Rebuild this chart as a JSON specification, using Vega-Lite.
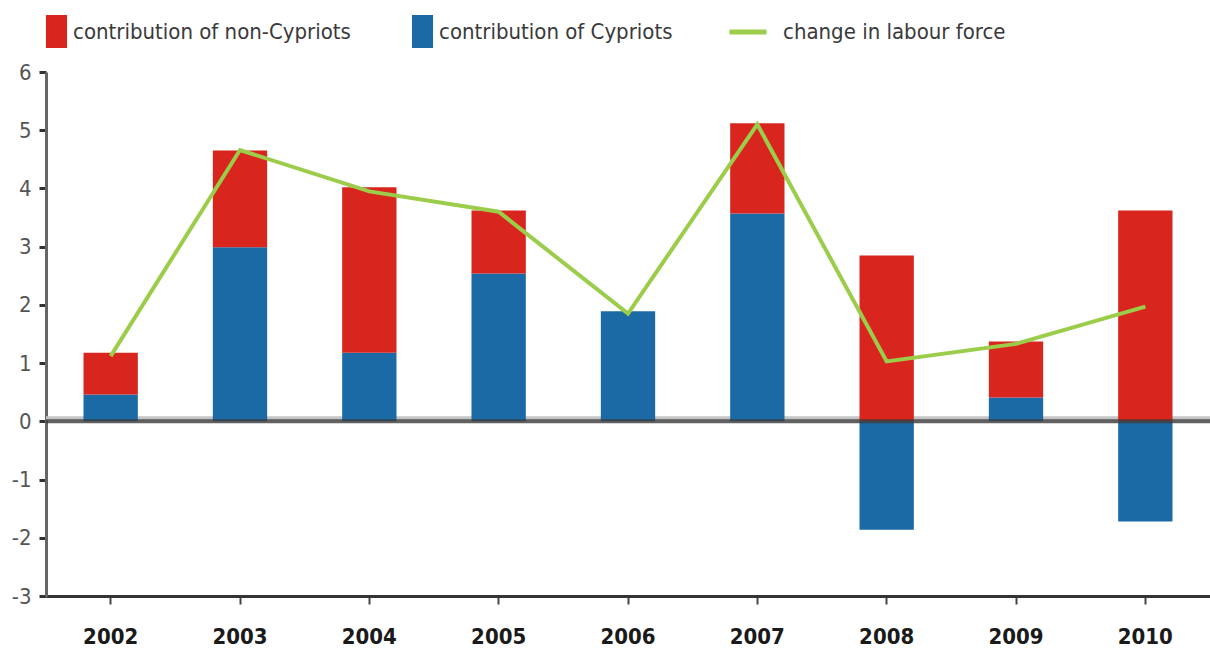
{
  "$schema": "https://vega.github.io/schema/vega-lite/v6.json",
  "width": 1164,
  "height": 524,
  "autosize": {"type": "none"},
  "padding": {"left": 46, "top": 72, "right": 0, "bottom": 58},
  "background": "white",
  "config": {
    "view": {"stroke": null},
    "font": "DejaVu Sans Condensed, Liberation Sans Narrow, sans-serif"
  },
  "datasets": {
    "bars": [
      {"year": "2002", "series": "contribution of Cypriots", "value": 0.46},
      {"year": "2002", "series": "contribution of non-Cypriots", "value": 0.72},
      {"year": "2003", "series": "contribution of Cypriots", "value": 2.99},
      {"year": "2003", "series": "contribution of non-Cypriots", "value": 1.66},
      {"year": "2004", "series": "contribution of Cypriots", "value": 1.18},
      {"year": "2004", "series": "contribution of non-Cypriots", "value": 2.84},
      {"year": "2005", "series": "contribution of Cypriots", "value": 2.54},
      {"year": "2005", "series": "contribution of non-Cypriots", "value": 1.08},
      {"year": "2006", "series": "contribution of Cypriots", "value": 1.89},
      {"year": "2006", "series": "contribution of non-Cypriots", "value": 0},
      {"year": "2007", "series": "contribution of Cypriots", "value": 3.57},
      {"year": "2007", "series": "contribution of non-Cypriots", "value": 1.55},
      {"year": "2008", "series": "contribution of Cypriots", "value": -1.86},
      {"year": "2008", "series": "contribution of non-Cypriots", "value": 2.85},
      {"year": "2009", "series": "contribution of Cypriots", "value": 0.41},
      {"year": "2009", "series": "contribution of non-Cypriots", "value": 0.96},
      {"year": "2010", "series": "contribution of Cypriots", "value": -1.72},
      {"year": "2010", "series": "contribution of non-Cypriots", "value": 3.62}
    ],
    "line": [
      {"year": "2002", "series": "change in labour force", "change": 1.12},
      {"year": "2003", "series": "change in labour force", "change": 4.66},
      {"year": "2004", "series": "change in labour force", "change": 3.95},
      {"year": "2005", "series": "change in labour force", "change": 3.6},
      {"year": "2006", "series": "change in labour force", "change": 1.85},
      {"year": "2007", "series": "change in labour force", "change": 5.1},
      {"year": "2008", "series": "change in labour force", "change": 1.03},
      {"year": "2009", "series": "change in labour force", "change": 1.33},
      {"year": "2010", "series": "change in labour force", "change": 1.97}
    ]
  },
  "encoding": {
    "x": {
      "field": "year",
      "type": "nominal",
      "scale": {"paddingInner": 0.58, "paddingOuter": 0.29},
      "axis": {
        "title": null,
        "labelAngle": 0,
        "labelFontSize": 22,
        "labelFontWeight": "bold",
        "labelColor": "#1a1a1a",
        "labelPadding": 22,
        "tickSize": 8,
        "tickWidth": 2,
        "tickColor": "#444",
        "domainColor": "#333",
        "domainWidth": 3
      }
    }
  },
  "layer": [
    {
      "data": {"values": [{"z": 0}]},
      "mark": {"type": "rule", "color": "#c4c4c4", "strokeWidth": 4, "yOffset": -3},
      "encoding": {"y": {"field": "z", "type": "quantitative", "scale": {"domain": [-3, 6], "nice": false}}, "x": null}
    },
    {
      "data": {"name": "bars"},
      "mark": {"type": "bar"},
      "encoding": {
        "y": {
          "field": "value",
          "type": "quantitative",
          "stack": "zero",
          "scale": {"domain": [-3, 6], "nice": false},
          "axis": {
            "title": null,
            "values": [-3, -2, -1, 0, 1, 2, 3, 4, 5, 6],
            "labelExpr": "'' + datum.value",
            "grid": false,
            "labelFontSize": 22,
            "labelColor": "#555",
            "labelPadding": 8,
            "tickSize": 7,
            "tickWidth": 3,
            "tickColor": "#333",
            "domainColor": "#666",
            "domainWidth": 3
          }
        },
        "fill": {
          "field": "series",
          "type": "nominal",
          "scale": {
            "domain": ["contribution of non-Cypriots", "contribution of Cypriots"],
            "range": ["#d8261f", "#1b6aa5"]
          },
          "legend": {
            "title": null,
            "orient": "none",
            "legendX": -6,
            "legendY": -57,
            "direction": "horizontal",
            "symbolType": "M-0.64,-1H0.64V1H-0.64Z",
            "symbolSize": 1089,
            "symbolStrokeWidth": 0,
            "labelFontSize": 22,
            "labelLimit": 500,
            "labelColor": "#3a3a3a",
            "labelOffset": 0,
            "columnPadding": 55,
            "padding": 0
          }
        },
        "order": {"field": "series", "sort": "ascending"}
      }
    },
    {
      "data": {"values": [{"z": 0}]},
      "mark": {"type": "rule", "color": "#3a3a3a", "strokeWidth": 4, "opacity": 0.8},
      "encoding": {"y": {"field": "z", "type": "quantitative"}, "x": null}
    },
    {
      "data": {"name": "line"},
      "mark": {"type": "line", "strokeWidth": 4},
      "encoding": {
        "y": {"field": "change", "type": "quantitative"},
        "stroke": {
          "field": "series",
          "type": "nominal",
          "scale": {"range": ["#9bcd4b"]},
          "legend": {
            "title": null,
            "orient": "none",
            "legendX": 681,
            "legendY": -61,
            "symbolType": "stroke",
            "symbolSize": 1369,
            "symbolStrokeWidth": 5,
            "labelFontSize": 22,
            "labelLimit": 500,
            "labelColor": "#3a3a3a",
            "labelOffset": 14,
            "padding": 0
          }
        }
      }
    }
  ]
}
